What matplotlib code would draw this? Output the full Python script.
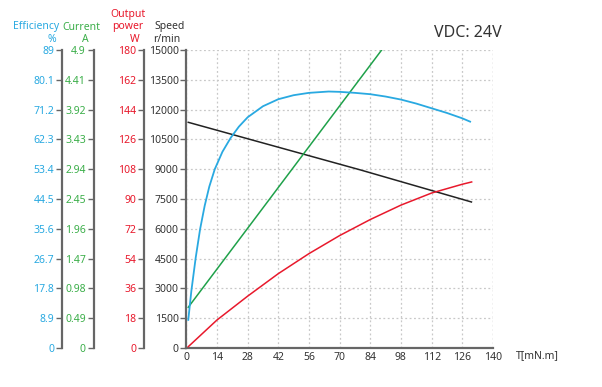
import matplotlib
matplotlib.use("Agg")
import matplotlib.pyplot as plt

plt.rcParams['font.family'] = ['Noto Sans', 'DejaVu Sans']

# ---- data ----
torque_ticks = [0, 14, 28, 42, 56, 70, 84, 98, 112, 126, 140]
speed_ticks = [0, 1500, 3000, 4500, 6000, 7500, 9000, 10500, 12000, 13500, 15000]
eff_ticks = [0, 8.9, 17.8, 26.7, 35.6, 44.5, 53.4, 62.3, 71.2, 80.1, 89]
eff_labels = ["0", "8.9", "17.8", "26.7", "35.6", "44.5", "53.4", "62.3", "71.2", "80.1", "89"]
cur_ticks = [0, 0.49, 0.98, 1.47, 1.96, 2.45, 2.94, 3.43, 3.92, 4.41, 4.9]
cur_labels = ["0", "0.49", "0.98", "1.47", "1.96", "2.45", "2.94", "3.43", "3.92", "4.41", "4.9"]
pow_ticks = [0, 18, 36, 54, 72, 90, 108, 126, 144, 162, 180]

speed_T = [0.9, 79.3, 130.2]
speed_v = [11360, 8970, 7350]

cur_T = [0.9, 89.2]
cur_v = [0.67, 4.9]

eff_T = [0.9, 2.3, 4.3, 6.3, 8.4, 10.5, 13.0, 16.5, 20.3, 24, 28, 35, 42, 49,
         56, 65, 70, 77, 84, 91, 98, 105, 112, 119, 126, 129.6]
eff_v = [8.4, 17.0, 27.0, 35.5, 42.5, 48.2, 53.4, 58.6, 62.8, 66.1, 68.9, 72.2, 74.3, 75.5,
         76.2, 76.6, 76.5, 76.2, 75.8, 75.1, 74.2, 73.0, 71.6, 70.2, 68.6, 67.6]

pow_T = [0.9, 14, 28, 42, 56, 70, 84, 98, 112, 126, 130.3]
pow_v = [0.8, 16.9, 31.3, 44.9, 57.0, 67.9, 77.6, 86.3, 93.6, 98.9, 100.3]

# ---- style ----
W, H = 602, 387
BLUE = "#29a9e1"
GREEN = "#1fa14a"
GREEN_T = "#3bae49"
RED = "#e8192c"
DARK = "#333333"
SPINE = "#666666"
FS = 7.5

fig = plt.figure(figsize=(W / 100, H / 100), dpi=100)
bottom = (H - 348) / H
height = 298 / H

ax = fig.add_axes([186.3 / W, bottom, 306.6 / W, height])
ax.set_xlim(0, 140)
ax.set_ylim(0, 15000)
ax.set_xticks(torque_ticks)
ax.set_yticks(speed_ticks)
ax.tick_params(axis='both', labelsize=FS, colors=DARK, length=3, width=1, pad=1.5)
ax.tick_params(axis='y', length=4, color=SPINE)
ax.tick_params(axis='x', length=0, pad=3)
for s in ['top', 'right']:
    ax.spines[s].set_visible(False)
for s in ['left', 'bottom']:
    ax.spines[s].set_color(SPINE)
    ax.spines[s].set_linewidth(1.6)
ax.grid(True, linestyle=(0, (1.5, 2)), color="#c8c8c8", linewidth=0.9)
ax.set_axisbelow(True)
ax.axvline(140, linestyle=(0, (1.5, 2)), color="#c8c8c8", linewidth=0.9, zorder=0)

# curves
ax.plot(speed_T, speed_v, color="#222222", lw=1.1, zorder=3)


def overlay(lim):
    a = ax.twinx()
    for s in a.spines.values():
        s.set_visible(False)
    a.set_yticks([])
    a.set_ylim(0, lim)
    return a


overlay(4.9).plot(cur_T, cur_v, color=GREEN, lw=1.1)
overlay(89).plot(eff_T, eff_v, color=BLUE, lw=1.3, solid_joinstyle='round')
overlay(180).plot(pow_T, pow_v, color=RED, lw=1.1, solid_joinstyle='round')


def side_axis(xpx, lim, ticks, labels, color):
    a = fig.add_axes([xpx / W, bottom, 0.0001, height])
    a.patch.set_visible(False)
    for s in ['top', 'right', 'bottom']:
        a.spines[s].set_visible(False)
    a.spines['left'].set_color(SPINE)
    a.spines['left'].set_linewidth(1.6)
    a.set_xticks([])
    a.set_ylim(0, lim)
    a.set_yticks(ticks)
    a.set_yticklabels(labels)
    a.tick_params(axis='y', labelsize=FS, labelcolor=color, color=SPINE, length=4, width=1, pad=1.5)
    return a


side_axis(62, 89, eff_ticks, eff_labels, BLUE)
side_axis(93.5, 4.9, cur_ticks, cur_labels, GREEN_T)
side_axis(144, 180, pow_ticks, [str(v) for v in pow_ticks], RED)


def ftxt(x, y, s, color, ha='center', size=FS):
    fig.text(x / W, 1 - y / H, s, color=color, ha=ha, va='center', fontsize=size)


ftxt(36, 27, "Efficiency", BLUE)
ftxt(52, 40, "%", BLUE)
ftxt(81, 27, "Current", GREEN_T)
ftxt(85, 40, "A", GREEN_T)
ftxt(128, 14, "Output", RED)
ftxt(128, 27, "power", RED)
ftxt(135, 40, "W", RED)
ftxt(170, 27, "Speed", DARK)
ftxt(167, 40, "r/min", DARK)
ftxt(516, 356, "T[mN.m]", DARK, ha='left')
ftxt(468, 33, "VDC: 24V", DARK, size=11.5)

fig.savefig("out.png", dpi=100)
